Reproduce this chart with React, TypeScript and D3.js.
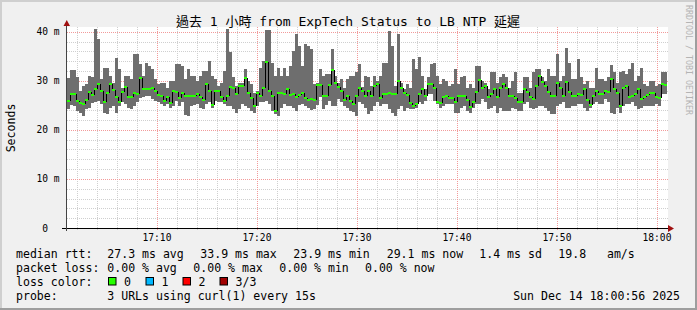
import React from "react";
import * as d3 from "d3";

const maxs = [30.5,32.2,32.2,30.8,28.0,29.0,29.3,31.0,30.7,40.5,38.5,30.3,32.7,32.7,31.0,29.6,34.7,32.4,28.6,31.0,
31.0,30.3,35.4,35.5,33.4,31.0,33.7,33.0,32.4,30.3,29.3,29.6,29.6,28.6,30.0,30.0,33.4,33.4,33.0,30.3,
32.4,31.0,31.0,30.0,31.0,32.0,32.0,34.1,31.0,30.3,29.0,29.6,32.0,40.5,35.8,30.7,29.0,29.6,29.5,32.4,
30.0,29.3,27.6,28.0,32.7,34.1,40.3,40.3,33.7,31.0,32.7,31.0,32.7,31.0,33.0,36.0,39.6,37.0,33.0,37.5,
37.0,36.4,29.3,29.6,32.4,31.0,31.3,31.3,36.4,31.0,29.5,30.3,28.6,30.3,31.0,31.0,31.7,33.4,28.8,31.0,
30.7,29.0,31.0,30.0,31.0,33.7,33.7,40.2,37.0,29.0,39.5,29.6,28.3,29.3,28.6,34.4,32.4,34.8,31.0,28.3,
30.7,33.5,33.7,31.0,29.3,30.3,30.0,29.0,29.3,32.4,29.3,30.7,31.0,28.6,29.3,28.6,33.0,33.0,30.0,29.6,
28.3,31.7,31.7,29.6,30.7,31.3,30.7,28.6,30.0,31.7,27.6,27.6,30.7,30.7,28.6,31.7,32.4,32.4,30.7,30.0,
32.4,31.0,31.0,35.4,30.0,31.0,36.6,33.7,30.3,30.3,34.4,30.7,29.3,30.0,28.6,28.6,32.7,30.3,30.3,30.0,
30.7,33.2,31.7,29.6,31.7,32.0,31.3,32.4,33.7,30.0,31.0,32.7,29.3,29.0,30.0,30.0,29.0,29.3,31.7,31.7];

const mins = [24.3,25.0,24.9,23.9,23.4,22.8,24.2,24.5,25.4,25.6,25.9,25.2,23.4,23.2,24.5,24.9,23.4,24.9,25.6,25.2,
24.5,24.2,24.9,25.6,26.4,26.6,26.8,26.9,26.2,25.9,25.7,25.2,24.9,25.2,24.5,24.9,25.9,24.9,25.6,23.0,
22.8,24.9,25.0,25.2,24.5,24.2,25.2,25.6,24.5,25.9,25.6,25.6,25.2,24.9,24.9,24.2,23.5,24.2,25.2,24.9,
24.5,23.9,23.5,24.9,25.6,25.6,25.9,25.2,23.9,23.2,22.8,24.5,25.2,24.9,24.9,24.5,23.9,25.0,25.2,24.9,
24.5,24.0,24.2,25.0,26.6,24.2,25.0,25.9,24.9,24.9,26.2,25.6,24.9,24.5,23.9,23.7,22.8,25.6,25.2,24.5,
23.2,23.9,24.9,25.6,24.9,25.2,25.2,24.2,23.5,22.8,24.2,24.9,23.9,24.5,24.2,24.2,24.5,25.6,25.2,25.9,
27.3,27.3,25.9,25.2,24.5,24.9,25.2,25.2,25.2,23.5,23.5,24.5,24.9,23.9,23.5,24.5,25.2,25.2,26.2,25.6,
24.2,24.5,24.9,23.5,24.5,23.9,23.9,23.9,24.5,24.2,23.9,23.9,25.2,25.6,24.5,24.2,24.5,24.9,24.9,24.5,
23.9,23.2,23.2,24.9,25.2,25.6,24.5,24.5,24.9,24.9,25.2,25.2,24.5,23.9,24.5,25.2,25.6,25.2,25.2,26.2,
25.6,23.5,23.2,24.5,23.5,24.9,25.2,25.2,25.6,24.9,24.2,24.5,24.9,24.9,24.9,24.9,25.2,24.9,27.3,27.3];

const medians = [25.9,27.3,27.3,25.9,25.4,25.2,26.1,27.7,27.1,28.3,29.3,28.0,25.7,27.6,29.3,28.1,26.6,25.6,27.7,28.8,
26.7,26.6,27.6,27.3,30.5,28.3,28.4,28.4,28.6,28.0,27.1,26.9,25.9,26.6,25.4,28.0,27.8,26.4,27.6,26.9,
26.9,26.8,26.8,27.3,26.6,26.0,29.3,28.0,25.0,28.0,28.0,26.6,25.9,26.9,28.8,28.6,27.3,29.0,29.0,30.6,
27.6,26.4,24.9,27.6,26.9,28.6,33.9,28.0,27.0,23.9,27.6,27.6,27.3,28.3,27.1,27.3,26.6,27.1,27.6,26.4,
26.0,26.2,26.1,29.1,29.1,26.9,26.9,29.2,32.2,29.6,28.8,27.9,26.1,27.0,25.9,25.2,26.9,28.6,28.0,26.9,
27.9,26.9,29.0,29.3,26.4,27.3,27.3,27.6,27.3,27.3,30.0,28.6,27.6,27.1,25.4,24.9,25.2,27.3,28.3,26.9,
29.3,29.3,28.6,25.6,25.4,26.6,26.8,26.4,26.4,25.6,26.9,27.0,26.8,26.1,24.6,25.6,27.8,30.1,28.6,28.9,
26.7,27.3,28.4,26.6,28.6,29.3,28.5,26.8,26.9,26.4,25.7,25.7,28.3,27.7,26.6,26.3,29.0,31.0,29.8,29.0,
27.8,26.8,26.8,29.5,28.6,26.9,29.8,27.8,26.8,26.8,27.3,27.1,28.3,26.1,25.0,27.0,28.0,27.4,27.4,27.9,
27.8,30.4,28.4,27.6,24.9,28.5,29.0,26.6,26.8,27.3,28.4,26.3,26.6,27.1,27.6,27.6,26.6,26.4,29.3,29.1];

const title = "過去 1 小時 from ExpTech Status to LB NTP 延遲";
const yTicks = [0, 10, 20, 30, 40];
const lossColors = ["#26ff00", "#00b8ff", "#ff0000", "#a00000"];
const lossLabels = ["0", "1", "2", "3/3"];
const rttStats = ["27.3 ms avg", "33.9 ms max", "23.9 ms min", "29.1 ms now", "1.4 ms sd", "19.8   am/s"];
const lossStats = ["0.00 % avg", "0.00 % max", "0.00 % min", "0.00 % now"];
const probeText = "3 URLs using curl(1) every 15s";
const stampText = "Sun Dec 14 18:00:56 2025";

const W = 697, H = 310;
const L = 67, R = 667, B = 228, T = 27;
const STEP_S = 18;
const t0 = new Date(2025, 11, 14, 17, 1, 0);
const t1 = new Date(t0.getTime() + medians.length * STEP_S * 1000);
const tAt = (i: number) => new Date(t0.getTime() + i * STEP_S * 1000);

const MONO = "'DejaVu Sans Mono', 'Noto Sans CJK TC', monospace";

export default function App() {
  const x = d3.scaleTime().domain([t0, t1]).range([L, R]);
  const y = d3.scaleLinear().domain([0, 40.96]).range([B, T]);

  const minorX = d3.timeMinute.every(2)!.range(t0, t1).filter((d) => d.getMinutes() % 10 !== 0);
  const majorX = d3.timeMinute.every(10)!.range(t0, t1);
  const minorY = d3.range(2, 41, 2).filter((v) => v % 10 !== 0);
  const fmt = d3.timeFormat("%H:%M");

  let stepPath = "";
  for (let i = 1; i < medians.length; i++) {
    const xi = Math.round(x(tAt(i))) + 0.5;
    stepPath += `M${xi},${y(medians[i - 1])}L${xi},${y(medians[i])}`;
  }

  const axisFs = 9.6;
  const legFs = 11.55;
  const rttX = [107.3, 200.3, 293.3, 386.7, 479.3, 558.3];
  const lossX = [107.3, 193.3, 279.3, 365];
  const swX = [108, 145.5, 182.5, 219.5];
  const rowY = [258, 272, 286, 300];

  return (
    <svg width={W} height={H} style={{ position: "absolute", left: 0, top: 0 }} fontFamily={MONO}>
      <rect x={0} y={0} width={W} height={H} fill="#f0f0f0" />
      <rect x={0} y={0} width={W} height={2} fill="#cfcfcf" />
      <rect x={0} y={0} width={2} height={H} fill="#cfcfcf" />
      <rect x={0} y={H - 2} width={W} height={2} fill="#9e9e9e" />
      <rect x={W - 2} y={0} width={2} height={H} fill="#9e9e9e" />

      <rect x={L} y={T} width={R - L + 1} height={B - T} fill="#ffffff" />

      <g shapeRendering="crispEdges" strokeDasharray="1,1">
        {minorY.map((v) => (
          <line key={"hy" + v} x1={L} x2={R + 1} y1={Math.round(y(v)) + 0.5} y2={Math.round(y(v)) + 0.5} stroke="#cfcfcf" />
        ))}
        {minorX.map((d) => (
          <line key={"mx" + d.getTime()} x1={Math.round(x(d)) + 0.5} x2={Math.round(x(d)) + 0.5} y1={T} y2={B + 3} stroke="#cfcfcf" />
        ))}
        {yTicks.filter((v) => v > 0).map((v) => (
          <line key={"My" + v} x1={L} x2={R + 1} y1={Math.round(y(v)) + 0.5} y2={Math.round(y(v)) + 0.5} stroke="#f29a9a" />
        ))}
        {majorX.map((d) => (
          <line key={"Mx" + d.getTime()} x1={Math.round(x(d)) + 0.5} x2={Math.round(x(d)) + 0.5} y1={T} y2={B + 3} stroke="#f29a9a" />
        ))}
      </g>

      <g shapeRendering="crispEdges">
        {medians.map((m, i) => (
          <rect key={"s" + i} x={x(tAt(i))} y={y(maxs[i])} width={x(tAt(i + 1)) - x(tAt(i))} height={y(mins[i]) - y(maxs[i])} fill="#6e6e6e" />
        ))}
      </g>
      <path d={stepPath} stroke="#000" strokeWidth={1} fill="none" shapeRendering="crispEdges" />
      <g shapeRendering="crispEdges">
        {medians.map((m, i) => (
          <rect key={"m" + i} x={x(tAt(i))} y={Math.round(y(m)) - 1} width={x(tAt(i + 1)) - x(tAt(i))} height={2} fill={lossColors[0]} />
        ))}
      </g>

      <g shapeRendering="crispEdges">
        <line x1={62} x2={669} y1={B + 0.5} y2={B + 0.5} stroke="#000" />
        <line x1={L - 0.5} x2={L - 0.5} y1={B + 3} y2={25} stroke="#444" />
      </g>
      <path d={`M668,${B - 3}L674,${B + 0.5}L668,${B + 4}Z`} fill="#a01010" />
      <path d={`M63.5,26L70,26L66.75,20Z`} fill="#a01010" />

      {yTicks.map((v) => (
        <text key={"yl" + v} x={59.5} y={y(v) + 3.5} fontSize={axisFs} textAnchor="end" fill="#000" style={{ whiteSpace: "pre" }}>
          {v === 0 ? "0\u00a0\u00a0" : `${v} m`}
        </text>
      ))}
      {majorX.filter((d) => x(d) > L + 10).map((d) => (
        <text key={"xl" + d.getTime()} x={x(d)} y={240.5} fontSize={axisFs} textAnchor="middle" fill="#000">
          {fmt(d)}
        </text>
      ))}

      <text x={348} y={26} fontSize={13} textAnchor="middle" fill="#000">{title}</text>
      <text transform="translate(15,128) rotate(-90)" fontSize={legFs} textAnchor="middle" fill="#000">Seconds</text>
      <text transform="translate(685.5,5) rotate(90)" fontSize={8.3} fill="#b4b4b4">RRDTOOL / TOBI OETIKER</text>

      <g fontSize={legFs} fill="#000" style={{ whiteSpace: "pre" }}>
        <text x={16} y={rowY[0]}>median rtt:</text>
        {rttStats.map((s, i) => (
          <text key={"r" + i} x={rttX[i]} y={rowY[0]} xmlSpace="preserve" style={{ whiteSpace: "pre" }}>{s}</text>
        ))}
        <text x={16} y={rowY[1]}>packet loss:</text>
        {lossStats.map((s, i) => (
          <text key={"l" + i} x={lossX[i]} y={rowY[1]}>{s}</text>
        ))}
        <text x={16} y={rowY[2]}>loss color:</text>
        {lossColors.map((c, i) => (
          <g key={"c" + i}>
            <rect x={swX[i] + 0.5} y={rowY[2] - 8.5} width={7.5} height={7.5} fill={c} stroke="#000" strokeWidth={1} />
            <text x={swX[i] + 16} y={rowY[2]}>{lossLabels[i]}</text>
          </g>
        ))}
        <text x={16} y={rowY[3]}>probe:</text>
        <text x={107.3} y={rowY[3]}>{probeText}</text>
        <text x={680} y={rowY[3]} textAnchor="end">{stampText}</text>
      </g>
    </svg>
  );
}
